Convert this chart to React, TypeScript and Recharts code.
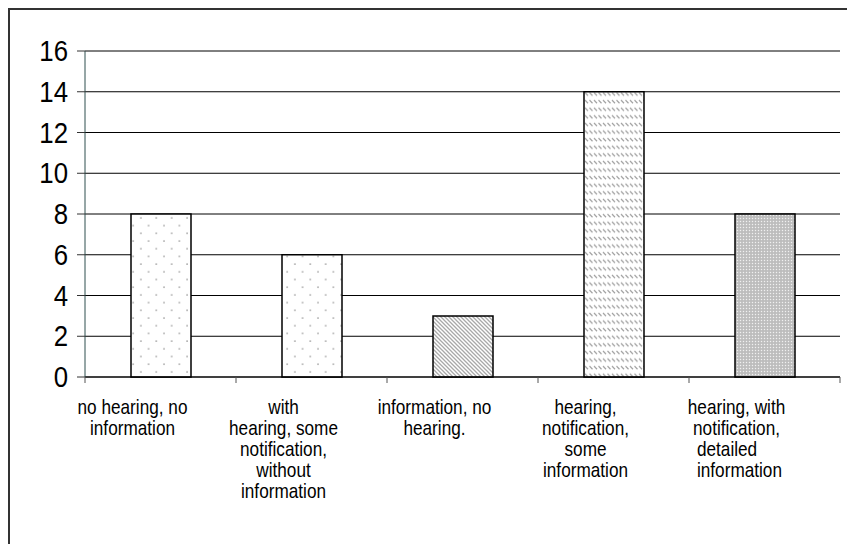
import React from "react"
import { BarChart, Bar, XAxis, YAxis, CartesianGrid, Cell } from "recharts"

const categories = [
  "no hearing, no information",
  "with hearing, some notification, without information",
  "information, no hearing.",
  "hearing, notification, some information",
  "hearing, with notification, detailed information",
]
// line breaks as they appear under the axis
const labelLines = [
  ["no hearing, no", "information"],
  ["with", "hearing, some", "notification,", "without", "information"],
  ["information, no", "hearing."],
  ["hearing,", "notification,", "some", "information"],
  ["hearing, with", "notification,", "detailed", "information"],
]
const values = [8, 6, 3, 14, 8]
const fills = ["url(#dots)", "url(#dots)", "url(#stripes)", "url(#dashes)", "url(#checks)"]
const yTicks = [0, 2, 4, 6, 8, 10, 12, 14, 16]

const data = categories.map((name, i) => ({ name, value: values[i] }))

const FONT = "'Liberation Sans', Arial, sans-serif"

function Patterns() {
  return (
    <svg width={0} height={0} style={{ position: "absolute" }}>
      <defs>
        <pattern id="dots" width={15.4} height={15.4} patternUnits="userSpaceOnUse">
          <rect width={15.4} height={15.4} fill="#fff" />
          <circle cx={2} cy={2} r={0.9} fill="#a0a0a0" />
          <circle cx={9.7} cy={9.7} r={0.9} fill="#a0a0a0" />
        </pattern>
        <pattern id="stripes" width={4} height={4} patternUnits="userSpaceOnUse">
          <rect width={4} height={4} fill="#fff" />
          <path d="M-1,-1 L5,5 M-1,3 L1,5 M3,-1 L5,1" stroke="#a8a8a8" strokeWidth={1.3} />
        </pattern>
        <pattern id="dashes" width={9} height={7.6} patternUnits="userSpaceOnUse">
          <rect width={9} height={7.6} fill="#fff" />
          <path d="M1,1 L4,4 M5.5,1 L8.5,4" stroke="#a0a0a0" strokeWidth={1.2} />
        </pattern>
        <pattern id="checks" width={3} height={3} patternUnits="userSpaceOnUse">
          <rect width={3} height={3} fill="#c4c4c4" />
          <rect x={0} y={0} width={1} height={1} fill="#f0f0f0" />
          <rect x={1.5} y={1.5} width={1} height={1} fill="#a8a8a8" />
        </pattern>
      </defs>
    </svg>
  )
}

function CategoryTick(props: any) {
  const { x, y, payload, index } = props
  const half = payload?.offset || 75.5
  const lines = labelLines[index] || [payload.value]
  const cx = x - 28
  const sx = 0.86
  return (
    <g>
      <line x1={x - half} y1={y - 8} x2={x - half} y2={y - 2} stroke="#555" />
      {index === categories.length - 1 && (
        <line x1={x + half} y1={y - 8} x2={x + half} y2={y - 2} stroke="#555" />
      )}
      <g transform={`translate(${cx},${y + 29}) scale(${sx},1)`}>
        <text x={0} y={0} fontSize={20} fill="#000" fontFamily={FONT}>
          {lines.map((l: string, i: number) => {
            // Excel left-aligned the last two lines of the final label
            const left = index === 4 && i >= 2
            return (
              <tspan
                key={i}
                x={left ? -46 : 0}
                dy={i === 0 ? 0 : 21}
                textAnchor={left ? "start" : "middle"}
              >
                {l}
              </tspan>
            )
          })}
        </text>
      </g>
    </g>
  )
}

function ValueTick(props: any) {
  const { x, y, payload } = props
  return (
    <g transform={`translate(${x},${y + 10}) scale(0.86,1)`}>
      <text x={0} y={0} textAnchor="end" fontSize={30} fill="#000" fontFamily={FONT}>
        {payload.value}
      </text>
    </g>
  )
}

export default function App() {
  return (
    <div
      style={{
        position: "relative",
        width: 839,
        height: 536,
        borderTop: "2px solid #333",
        borderLeft: "2px solid #333",
        boxSizing: "border-box",
        background: "#fff",
      }}
    >
      <Patterns />
      <div style={{ position: "absolute", left: -2, top: -2 }}>
        <BarChart
          width={839}
          height={536}
          data={data}
          margin={{ top: 43, right: 7, bottom: 10, left: 0 }}
          barSize={60}
        >
          <CartesianGrid vertical={false} stroke="#000" strokeWidth={1} />
          <XAxis
            dataKey="name"
            axisLine={{ stroke: "#000" }}
            tickLine={false}
            tick={<CategoryTick />}
            interval={0}
            height={157}
          />
          <XAxis
            xAxisId="top"
            orientation="top"
            dataKey="name"
            tick={false}
            tickLine={false}
            axisLine={{ stroke: "#a8eef0", strokeWidth: 1.5 }}
            height={0}
          />
          <YAxis
            domain={[0, 16]}
            ticks={yTicks}
            interval={0}
            width={77}
            tickSize={8}
            tickMargin={9}
            axisLine={{ stroke: "#2f4f4f" }}
            tickLine={{ stroke: "#333" }}
            tick={<ValueTick />}
          />
          <YAxis
            yAxisId="right"
            orientation="right"
            tick={false}
            tickLine={false}
            axisLine={{ stroke: "#a8eef0", strokeWidth: 1.5 }}
            width={0}
          />
          <Bar dataKey="value" stroke="#000" strokeWidth={1.5} isAnimationActive={false}>
            {data.map((d, i) => (
              <Cell key={`cell-${i}`} fill={fills[i]} />
            ))}
          </Bar>
        </BarChart>
      </div>
    </div>
  )
}
